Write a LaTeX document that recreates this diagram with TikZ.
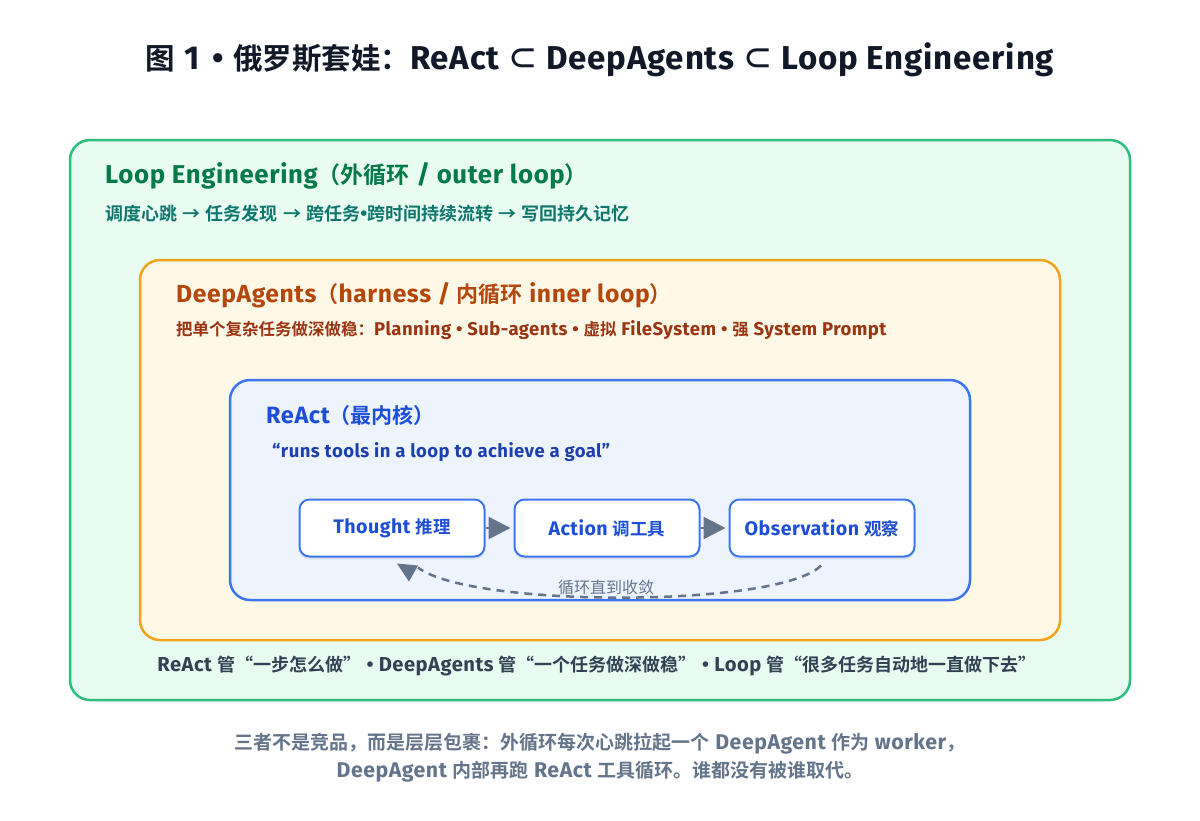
\documentclass[tikz,border=0pt]{standalone}
\usepackage{fontspec}
\setmainfont{Fira Sans}[Scale=1.12, LetterSpace=2.5]
\newfontfamily\cjkfam{Noto Sans CJK SC}[BoldFont={Noto Sans CJK SC Bold}]
\XeTeXinterchartokenstate=1
\newXeTeXintercharclass\CJKcls
\newcount\cjkcc
\def\setcjkrange#1#2{\cjkcc=#1\relax\loop\XeTeXcharclass\cjkcc=\CJKcls\advance\cjkcc by 1\relax\ifnum\cjkcc<#2\repeat}
\setcjkrange{"4E00}{"A000}
\setcjkrange{"3000}{"3040}
\setcjkrange{"FF00}{"FFF0}
\XeTeXcharclass"2282=\CJKcls
\XeTeXcharclass"2192=\CJKcls
\XeTeXinterchartoks 0 \CJKcls = {\cjkfam}
\XeTeXinterchartoks 4095 \CJKcls = {\cjkfam}
\XeTeXinterchartoks \CJKcls 0 = {\rmfamily}
\XeTeXinterchartoks \CJKcls 4095 = {\rmfamily}
\newcommand\cq[1]{{\cjkfam #1}}
\usetikzlibrary{arrows.meta,shadows,calc}
\definecolor{gstroke}{HTML}{2BBF7A}
\definecolor{gfill}{HTML}{E8FCF2}
\definecolor{ostroke}{HTML}{F2A31B}
\definecolor{ofill}{HTML}{FEF8E7}
\definecolor{bstroke}{HTML}{3B76F0}
\definecolor{bfill}{HTML}{EEF4FE}
\definecolor{gtitle}{HTML}{047A48}
\definecolor{gsub}{HTML}{0F766E}
\definecolor{otitle}{HTML}{B4470B}
\definecolor{osub}{HTML}{9A3412}
\definecolor{btitle}{HTML}{1D4ED8}
\definecolor{bsub}{HTML}{1E40AF}
\definecolor{slate}{HTML}{334155}
\definecolor{gray1}{HTML}{64748B}
\definecolor{titlec}{HTML}{111827}
\tikzset{
  container/.style={draw, line width=2.5pt, rounded corners=20pt, inner sep=0pt},
  stepbox/.style={draw=bstroke, fill=white, line width=2pt, rounded corners=10pt,
    minimum width=185pt, minimum height=57pt, inner sep=0pt,
    text=btitle, font=\bfseries\fontsize{17.5}{20}\selectfont,
    drop shadow={shadow xshift=0pt, shadow yshift=-3pt, opacity=0.08, fill=black}},
  flow/.style={draw=gray1, line width=2.5pt, -{Triangle[length=22pt,width=22pt]}, shorten >=3pt},
  lbl/.style={anchor=west, inner sep=0pt},
}
\begin{document}
\begin{tikzpicture}[x=1pt,y=-1pt]
\useasboundingbox[fill=white] (0,0) rectangle (1200,820);
% title
\node[inner sep=0pt, text=titlec, font=\bfseries\fontsize{29.5}{34}\selectfont] (title) at (600,60) {图 1\hspace{0.15em} • 俄罗斯套娃：ReAct ⊂ DeepAgents ⊂ Loop Engineering};
% containers
\node[container, draw=gstroke, fill=gfill, minimum width=1060pt, minimum height=560pt] (outer) at (600,420) {};
\node[container, draw=ostroke, fill=ofill, minimum width=920pt, minimum height=380pt] (mid) at (600,450) {};
\node[container, draw=bstroke, fill=bfill, minimum width=740pt, minimum height=220pt] (inner) at (600,490) {};
% outer texts
\node[lbl, text=gtitle, font=\bfseries\fontsize{23}{27}\selectfont] (lt) at (105,176) {Loop Engineering（外循环 / outer loop）};
\node[lbl, text=gsub, font=\bfseries\fontsize{18}{20}\selectfont] (ls) at (105,214) {调度心跳 → 任务发现 → 跨任务•跨时间持续流转 → 写回持久记忆};
% mid texts
\node[lbl, text=otitle, font=\bfseries\fontsize{22}{25}\selectfont] (dt) at (176,295) {DeepAgents（harness / 内循环 inner loop）};
\node[lbl, text=osub, font=\bfseries\fontsize{16.5}{19}\selectfont] (ds) at (176,330) {把单个复杂任务做深做稳：Planning • Sub-agents • 虚拟 FileSystem • 强 System Prompt};
% inner texts
\node[lbl, text=btitle, font=\bfseries\fontsize{21}{24}\selectfont] (rt) at (266,416) {ReAct（最内核）};
\node[lbl, text=bsub, font=\bfseries\fontsize{16.5}{19}\selectfont] (rs) at (272,452) {“runs tools in a loop to achieve a goal”};
% steps
\node[stepbox] (thought) at (392,528) {Thought 推理};
\node[stepbox] (action) at (607,528) {Action 调工具};
\node[stepbox] (obs) at (822,528) {Observation 观察};
\draw[flow] (thought.east) -- (action.west);
\draw[flow] (action.east) -- (obs.west);
% loop back
\coordinate (ls1) at ($(obs.south)+(-1,8)$);
\coordinate (le1) at ($(thought.south)+(26,10)$);
\draw[gray1, line width=2.5pt, dash pattern=on 8pt off 6pt] (ls1) .. controls (780,608) and (470,608) .. (le1);
\fill[gray1] ($(thought.south)+(5,6)$) -- ($(thought.south)+(26,8)$) -- ($(thought.south)+(17,24)$) -- cycle;
\node[inner sep=0pt, text=gray1, font=\fontsize{16}{18}\selectfont] (loopl) at (606,587) {循环直到收敛};
% bottom line
\node[inner sep=0pt, text=slate, font=\bfseries\fontsize{18}{20}\selectfont] (summ) at (597,666) {ReAct 管\cq{“}一步怎么做\cq{”} • DeepAgents 管\cq{“}一个任务做深做稳\cq{”} • Loop 管\cq{“}很多任务自动地一直做下去\cq{”}};
% caption
\node[inner sep=0pt, text=gray1, font=\bfseries\fontsize{19}{22}\selectfont] (cap1) at (600,744) {三者不是竞品，而是层层包裹：外循环每次心跳拉起一个 DeepAgent 作为 worker，};
\node[inner sep=0pt, text=gray1, font=\bfseries\fontsize{19}{22}\selectfont] (cap2) at (600,772) {DeepAgent 内部再跑 ReAct 工具循环。谁都没有被谁取代。};
\end{tikzpicture}
\end{document}
